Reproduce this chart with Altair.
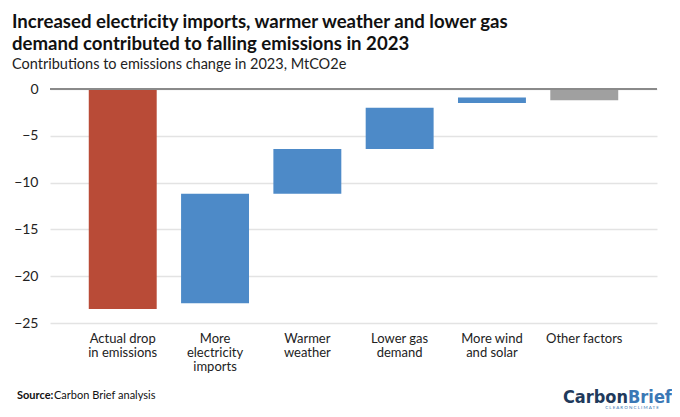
import pandas as pd
import altair as alt

# Chart data
labels = ["Actual drop|in emissions", "More|electricity|imports", "Warmer|weather",
          "Lower gas|demand", "More wind|and solar", "Other factors"]
bar_start = [0, -11.2, -6.4, -2.0, -0.9, 0]
bar_end = [-23.5, -22.9, -11.2, -6.4, -1.5, -1.2]
kinds = ["total", "factor", "factor", "factor", "factor", "other"]

df = pd.DataFrame({"label": labels, "start": bar_start, "end": bar_end, "kind": kinds})
one = pd.DataFrame({"t": [0]})

FONT = "Lato"
LOGO_FONT = "Liberation Sans Narrow, DejaVu Sans Condensed, Roboto, sans-serif"

bars = alt.Chart(df).mark_bar().encode(
    x=alt.X("label:N", sort=labels, title=None,
            scale=alt.Scale(paddingInner=0.264, paddingOuter=0.42),
            axis=alt.Axis(labelAngle=0, ticks=False, domain=False, labelFontSize=13,
                          labelColor="#222", labelFont=FONT, labelLineHeight=14,
                          labelPadding=9, labelBaseline="top",
                          labelExpr="split(datum.label, '|')")),
    y=alt.Y("start:Q", title=None,
            scale=alt.Scale(domain=[-25, 0], nice=False),
            axis=alt.Axis(values=[-25, -20, -15, -10, -5, 0], ticks=False, domain=False,
                          labelFontSize=14, labelColor="#222", labelFont=FONT,
                          labelPadding=12, gridColor="#e3e3e3", gridWidth=1.5)),
    y2="end:Q",
    color=alt.Color("kind:N", legend=None,
                    scale=alt.Scale(domain=["total", "factor", "other"],
                                    range=["#b94b37", "#4d8ac8", "#a0a0a0"])),
)

# zero line
zero = alt.Chart(one).mark_rule(color="#8a8a8a", strokeWidth=2).encode(y=alt.datum(0))

# footer text
src_bold = alt.Chart(one).mark_text(text="Source:", fontWeight="bold", fontSize=11,
                                    font=FONT, align="left", color="#111").encode(
    x=alt.value(-33), y=alt.value(307))
src = alt.Chart(one).mark_text(text="Carbon Brief analysis", fontSize=11,
                               font=FONT, align="left", color="#111").encode(
    x=alt.value(4), y=alt.value(307))
logo1 = alt.Chart(one).mark_text(text="Carbon", fontWeight="bold", fontSize=18,
                                 font=LOGO_FONT, align="right",
                                 color="#1f3a5c").encode(x=alt.value(578), y=alt.value(309))
logo2 = alt.Chart(one).mark_text(text="Brief", fontWeight="bold", fontSize=18,
                                 font=LOGO_FONT, align="left",
                                 color="#3b78b5").encode(x=alt.value(578), y=alt.value(309))
tag = alt.Chart(one).mark_text(text="C L E A R   O N   C L I M A T E", fontSize=4.5,
                               font=FONT, align="center", baseline="top",
                               color="#3b78b5").encode(x=alt.value(582), y=alt.value(316))

chart = alt.layer(bars, zero, src_bold, src, logo1, logo2, tag).properties(
    width=607, height=234,
    autosize="none",
    padding={"left": 42, "top": 81, "right": 15, "bottom": 86},
    title=alt.TitleParams(
        text=["Increased electricity imports, warmer weather and lower gas",
              "demand contributed to falling emissions in 2023"],
        subtitle="Contributions to emissions change in 2023, MtCO2e",
        anchor="start", frame="group", dx=-38, offset=11,
        font=FONT, fontSize=18.6, fontWeight="bold", color="#111", lineHeight=22,
        subtitleFont=FONT, subtitleFontSize=14.5, subtitleColor="#222",
        subtitlePadding=4,
    ),
).configure_view(stroke=None)

chart.save("out.html", embed_options={"renderer": "svg", "actions": False})
